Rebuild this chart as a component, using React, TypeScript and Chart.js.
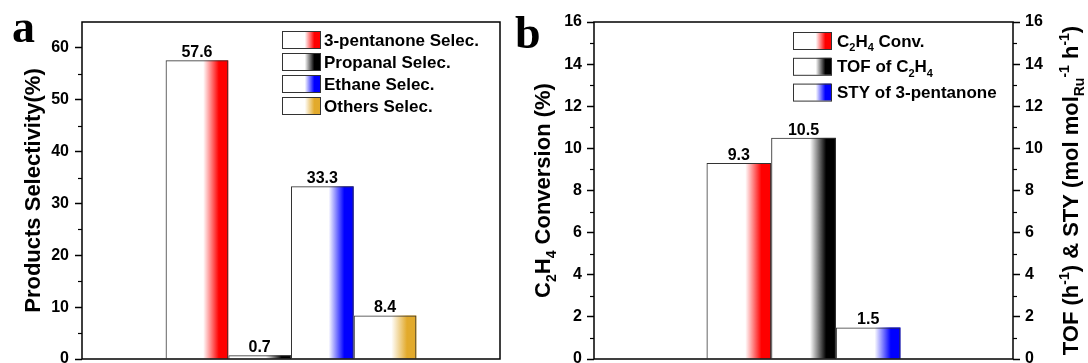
import React, { useEffect, useRef } from 'react';
import { Chart, registerables } from 'chart.js';

Chart.register(...registerables);

const SANS = '"Liberation Sans", Arial, sans-serif';
const SERIF = '"Liberation Serif", "Times New Roman", serif';

// ---------- Panel a data ----------
const selecCategories = ['3-pentanone Selec.', 'Propanal Selec.', 'Ethane Selec.', 'Others Selec.'];
const selecValues = [57.6, 0.7, 33.3, 8.4];
const selecColors = ['#ff0000', '#000000', '#0000ff', '#e2aa2c'];
const selecTicks = [0, 10, 20, 30, 40, 50, 60];
const selecMax = 65;

// ---------- Panel b data ----------
const convCategories = ['C_{2}H_{4} Conv.', 'TOF of C_{2}H_{4}', 'STY of 3-pentanone'];
const convValues = [9.3, 10.5, 1.5];
const convColors = ['#ff0000', '#000000', '#0000ff'];
const convTicks = [0, 2, 4, 6, 8, 10, 12, 14, 16];
const convMax = 16;

type Seg = { t: string; m: 'n' | 'sub' | 'sup' };

function parseRich(s: string): Seg[] {
  const out: Seg[] = [];
  const re = /([_^])\{([^}]*)\}/g;
  let last = 0;
  let m: RegExpExecArray | null;
  while ((m = re.exec(s))) {
    if (m.index > last) out.push({ t: s.slice(last, m.index), m: 'n' });
    out.push({ t: m[2], m: m[1] === '_' ? 'sub' : 'sup' });
    last = re.lastIndex;
  }
  if (last < s.length) out.push({ t: s.slice(last), m: 'n' });
  return out;
}

function segFont(seg: Seg, size: number) {
  const s = seg.m === 'n' ? size : Math.round(size * 0.65);
  return `bold ${s}px ${SANS}`;
}

function richWidth(ctx: CanvasRenderingContext2D, segs: Seg[], size: number) {
  let w = 0;
  for (const seg of segs) {
    ctx.font = segFont(seg, size);
    w += ctx.measureText(seg.t).width;
  }
  return w;
}

// draws rich text with baseline at y
function drawRich(
  ctx: CanvasRenderingContext2D,
  text: string,
  x: number,
  y: number,
  size: number,
  align: 'left' | 'center'
) {
  const segs = parseRich(text);
  const total = richWidth(ctx, segs, size);
  let cx = align === 'center' ? x - total / 2 : x;
  ctx.save();
  ctx.textAlign = 'left';
  ctx.textBaseline = 'alphabetic';
  ctx.fillStyle = '#000';
  for (const seg of segs) {
    ctx.font = segFont(seg, size);
    const dy = seg.m === 'sub' ? size * 0.28 : seg.m === 'sup' ? -size * 0.42 : 0;
    ctx.fillText(seg.t, cx, y + dy);
    cx += ctx.measureText(seg.t).width;
  }
  ctx.restore();
}

function barGradient(ctx: CanvasRenderingContext2D, x0: number, w: number, color: string) {
  const g = ctx.createLinearGradient(x0, 0, x0 + w, 0);
  g.addColorStop(0, '#ffffff');
  g.addColorStop(0.6, '#ffffff');
  g.addColorStop(0.85, color);
  g.addColorStop(1, color);
  return g;
}

const decorPlugin = {
  id: 'decor',
  beforeDatasetsDraw(chart: any, _args: any, opts: any) {
    const ctx: CanvasRenderingContext2D = chart.ctx;
    chart.data.datasets.forEach((_ds: any, i: number) => {
      const meta = chart.getDatasetMeta(i);
      meta.data.forEach((el: any) => {
        const { x, y, width, base } = el.getProps(['x', 'y', 'width', 'base'], true);
        const left = x - width / 2;
        ctx.save();
        ctx.fillStyle = barGradient(ctx, left, width, opts.colors[i]);
        ctx.fillRect(left, y, width, base - y);
        ctx.restore();
      });
    });
  },
  afterDatasetsDraw(chart: any, _args: any, opts: any) {
    const ctx: CanvasRenderingContext2D = chart.ctx;
    const area = chart.chartArea;

    // value labels
    chart.data.datasets.forEach((ds: any, i: number) => {
      const meta = chart.getDatasetMeta(i);
      meta.data.forEach((el: any, j: number) => {
        const { x, y } = el.getProps(['x', 'y'], true);
        ctx.save();
        ctx.font = `bold 16px ${SANS}`;
        ctx.fillStyle = '#000';
        ctx.textAlign = 'center';
        ctx.textBaseline = 'alphabetic';
        ctx.fillText(Number(ds.data[j]).toFixed(1), x, y - 3);
        ctx.restore();
      });
    });

    // frame
    ctx.save();
    ctx.strokeStyle = '#000';
    ctx.lineWidth = 1.5;
    ctx.strokeRect(area.left, area.top, area.right - area.left, area.bottom - area.top);
    ctx.restore();

    // minor ticks
    (opts.minorAxes || []).forEach((ax: any) => {
      const scale = chart.scales[ax.id];
      const vals = scale.ticks.map((t: any) => t.value);
      const mids: number[] = [];
      for (let k = 0; k < vals.length - 1; k++) mids.push((vals[k] + vals[k + 1]) / 2);
      if (vals.length > 1) {
        const step = vals[1] - vals[0];
        const extra = vals[vals.length - 1] + step / 2;
        if (extra < scale.max) mids.push(extra);
      }
      ctx.save();
      ctx.strokeStyle = '#000';
      ctx.lineWidth = 1.2;
      mids.forEach((v) => {
        const py = Math.round(scale.getPixelForValue(v)) + 0.5;
        ctx.beginPath();
        if (ax.side === 'left') {
          ctx.moveTo(area.left - 4, py);
          ctx.lineTo(area.left, py);
        } else {
          ctx.moveTo(area.right, py);
          ctx.lineTo(area.right + 4, py);
        }
        ctx.stroke();
      });
      ctx.restore();
    });

    // legend
    const lg = opts.legend;
    lg.labels.forEach((label: string, i: number) => {
      const cy = lg.rowY + i * lg.rowStep;
      const top = cy - lg.boxH / 2;
      ctx.save();
      ctx.fillStyle = barGradient(ctx, lg.boxX, lg.boxW, lg.colors[i]);
      ctx.fillRect(lg.boxX, top, lg.boxW, lg.boxH);
      ctx.strokeStyle = '#333';
      ctx.lineWidth = 1;
      ctx.strokeRect(lg.boxX + 0.5, top + 0.5, lg.boxW, lg.boxH);
      ctx.restore();
      drawRich(ctx, label, lg.textX, cy + lg.fontSize * 0.36, lg.fontSize, 'left');
    });

    // panel letter
    ctx.save();
    ctx.font = `bold ${opts.letter.size}px ${SERIF}`;
    ctx.fillStyle = '#000';
    ctx.textAlign = 'left';
    ctx.textBaseline = 'alphabetic';
    ctx.fillText(opts.letter.text, opts.letter.x, opts.letter.y);
    ctx.restore();

    // axis titles
    const cyMid = (area.top + area.bottom) / 2;
    (opts.titles || []).forEach((t: any) => {
      ctx.save();
      ctx.translate(t.x, cyMid);
      ctx.rotate(-Math.PI / 2);
      drawRich(ctx, t.text, 0, t.size * 0.36, t.size, 'center');
      ctx.restore();
    });
  },
};

function yAxis(opts: {
  position: 'left' | 'right';
  max: number;
  ticks: number[];
  width: number;
  padding: number;
}) {
  return {
    type: 'linear',
    position: opts.position,
    min: 0,
    max: opts.max,
    afterBuildTicks: (scale: any) => {
      scale.ticks = opts.ticks.map((v) => ({ value: v }));
    },
    afterFit: (scale: any) => {
      scale.width = opts.width;
      scale.paddingTop = 0;
      scale.paddingBottom = 0;
    },
    border: { display: false },
    grid: {
      drawOnChartArea: false,
      drawTicks: true,
      tickLength: 7,
      tickColor: '#000',
      tickWidth: 1.5,
      color: '#000',
    },
    ticks: {
      color: '#000',
      padding: opts.padding,
      font: { family: SANS, size: 16, weight: 'bold' },
      callback: (v: any) => String(v),
    },
  };
}

function makeConfigA(): any {
  return {
    type: 'bar',
    data: {
      labels: [''],
      datasets: selecCategories.map((name, i) => ({
        label: name,
        data: [selecValues[i]],
        backgroundColor: 'rgba(0,0,0,0)',
        borderColor: '#333',
        borderWidth: 1,
        borderSkipped: 'bottom',
        categoryPercentage: 0.6,
        barPercentage: 1,
      })),
    },
    options: {
      responsive: false,
      animation: false,
      devicePixelRatio: 1,
      layout: { padding: { left: 0, right: 10, top: 22, bottom: 4 } },
      plugins: {
        legend: { display: false },
        tooltip: { enabled: false },
        decor: {
          colors: selecColors,
          minorAxes: [{ id: 'y', side: 'left' }],
          legend: {
            labels: selecCategories,
            colors: selecColors,
            boxX: 282,
            boxW: 38,
            boxH: 17,
            rowY: 39.5,
            rowStep: 22,
            textX: 324,
            fontSize: 17,
          },
          letter: { text: 'a', x: 12, y: 42, size: 46 },
          titles: [{ text: 'Products Selectivity(%)', x: 32, size: 22 }],
        },
      },
      scales: {
        x: { display: false },
        y: yAxis({ position: 'left', max: selecMax, ticks: selecTicks, width: 82, padding: 6 }),
      },
    },
    plugins: [decorPlugin],
  };
}

function makeConfigB(): any {
  return {
    type: 'bar',
    data: {
      labels: [''],
      datasets: convCategories.map((name, i) => ({
        label: name,
        data: [convValues[i]],
        yAxisID: 'y',
        backgroundColor: 'rgba(0,0,0,0)',
        borderColor: '#333',
        borderWidth: 1,
        borderSkipped: 'bottom',
        categoryPercentage: 0.463,
        barPercentage: 1,
      })),
    },
    options: {
      responsive: false,
      animation: false,
      devicePixelRatio: 1,
      layout: { padding: { left: 0, right: 0, top: 22, bottom: 4 } },
      plugins: {
        legend: { display: false },
        tooltip: { enabled: false },
        decor: {
          colors: convColors,
          minorAxes: [
            { id: 'y', side: 'left' },
            { id: 'y2', side: 'right' },
          ],
          legend: {
            labels: convCategories,
            colors: convColors,
            boxX: 283,
            boxW: 38,
            boxH: 17,
            rowY: 40.5,
            rowStep: 25.8,
            textX: 327,
            fontSize: 17,
          },
          letter: { text: 'b', x: 5, y: 48, size: 46 },
          titles: [
            { text: 'C_{2}H_{4} Conversion (%)', x: 32, size: 22 },
            { text: 'TOF (h^{-1}) & STY (mol mol_{Ru}^{-1} h^{-1})', x: 560, size: 22 },
          ],
        },
      },
      scales: {
        x: { display: false },
        y: yAxis({ position: 'left', max: convMax, ticks: convTicks, width: 84, padding: 5 }),
        y2: yAxis({ position: 'right', max: convMax, ticks: convTicks, width: 75, padding: 5 }),
      },
    },
    plugins: [decorPlugin],
  };
}

export default function App() {
  const refA = useRef<HTMLCanvasElement>(null);
  const refB = useRef<HTMLCanvasElement>(null);

  useEffect(() => {
    const a = new Chart(refA.current as HTMLCanvasElement, makeConfigA());
    const b = new Chart(refB.current as HTMLCanvasElement, makeConfigB());
    return () => {
      a.destroy();
      b.destroy();
    };
  }, []);

  return (
    <div
      style={{
        position: 'absolute',
        left: 0,
        top: 0,
        width: 1088,
        height: 363,
        background: '#ffffff',
        overflow: 'hidden',
      }}
    >
      <canvas ref={refA} width={510} height={363} style={{ position: 'absolute', left: 0, top: 0 }} />
      <canvas ref={refB} width={578} height={363} style={{ position: 'absolute', left: 510, top: 0 }} />
    </div>
  );
}
